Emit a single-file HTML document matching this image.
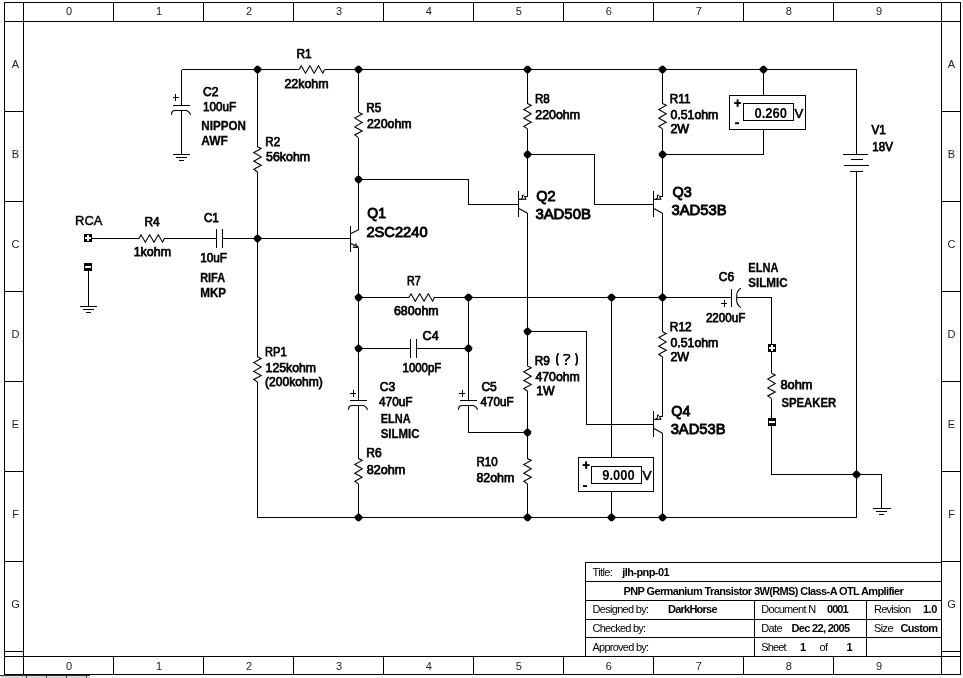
<!DOCTYPE html><html><head><meta charset="utf-8"><title>schematic</title><style>
html,body{margin:0;padding:0;background:#fefffd;}
body{width:963px;height:678px;overflow:hidden;}
svg{display:block;filter:grayscale(1);}
text{font-family:"Liberation Sans",sans-serif;fill:#000;}
.m{font-size:12.9px;font-weight:normal;stroke:#000;stroke-width:.75px;}
.r{font-size:12.8px;font-weight:normal;stroke:#000;stroke-width:.45px;}
.s{font-size:11.9px;font-weight:bold;stroke:#000;stroke-width:.3px;}
.b{font-size:14.7px;font-weight:normal;stroke:#000;stroke-width:.9px;}
.v{font-size:14.2px;font-weight:bold;}
.vv{font-size:13.6px;stroke:#000;stroke-width:.6px;}
.q{font-size:13px;font-family:"Liberation Mono",monospace;}
.pm{font-size:12px;font-weight:bold;}
.f{font-size:11px;fill:#222;}
.tr{font-size:11px;}
.tb{font-size:11px;font-weight:bold;}
.d{fill:#000;}
</style></head><body><svg width="963" height="678" viewBox="0 0 963 678">
<rect width="963" height="678" fill="#fefffd"/>
<g stroke="#000" stroke-width="1" fill="none" shape-rendering="crispEdges">
<rect x="4.5" y="2.5" width="956" height="672"/>
<rect x="23.5" y="21.5" width="918" height="635"/>
<line x1="23.5" y1="2.5" x2="23.5" y2="674.5"/>
<line x1="941.5" y1="2.5" x2="941.5" y2="674.5"/>
<line x1="4.5" y1="21.5" x2="960.5" y2="21.5"/>
<line x1="4.5" y1="656.5" x2="960.5" y2="656.5"/>
<line x1="113.5" y1="2.5" x2="113.5" y2="21.5"/>
<line x1="113.5" y1="656.5" x2="113.5" y2="674.5"/>
<line x1="203.5" y1="2.5" x2="203.5" y2="21.5"/>
<line x1="203.5" y1="656.5" x2="203.5" y2="674.5"/>
<line x1="293.5" y1="2.5" x2="293.5" y2="21.5"/>
<line x1="293.5" y1="656.5" x2="293.5" y2="674.5"/>
<line x1="383.5" y1="2.5" x2="383.5" y2="21.5"/>
<line x1="383.5" y1="656.5" x2="383.5" y2="674.5"/>
<line x1="473.5" y1="2.5" x2="473.5" y2="21.5"/>
<line x1="473.5" y1="656.5" x2="473.5" y2="674.5"/>
<line x1="563.5" y1="2.5" x2="563.5" y2="21.5"/>
<line x1="563.5" y1="656.5" x2="563.5" y2="674.5"/>
<line x1="653.5" y1="2.5" x2="653.5" y2="21.5"/>
<line x1="653.5" y1="656.5" x2="653.5" y2="674.5"/>
<line x1="743.5" y1="2.5" x2="743.5" y2="21.5"/>
<line x1="743.5" y1="656.5" x2="743.5" y2="674.5"/>
<line x1="833.5" y1="2.5" x2="833.5" y2="21.5"/>
<line x1="833.5" y1="656.5" x2="833.5" y2="674.5"/>
<line x1="4.5" y1="111.5" x2="23.5" y2="111.5"/>
<line x1="941.5" y1="111.5" x2="960.5" y2="111.5"/>
<line x1="4.5" y1="201.5" x2="23.5" y2="201.5"/>
<line x1="941.5" y1="201.5" x2="960.5" y2="201.5"/>
<line x1="4.5" y1="291.5" x2="23.5" y2="291.5"/>
<line x1="941.5" y1="291.5" x2="960.5" y2="291.5"/>
<line x1="4.5" y1="381.5" x2="23.5" y2="381.5"/>
<line x1="941.5" y1="381.5" x2="960.5" y2="381.5"/>
<line x1="4.5" y1="471.5" x2="23.5" y2="471.5"/>
<line x1="941.5" y1="471.5" x2="960.5" y2="471.5"/>
<line x1="4.5" y1="561.5" x2="23.5" y2="561.5"/>
<line x1="941.5" y1="561.5" x2="960.5" y2="561.5"/>
<line x1="4.5" y1="651.5" x2="23.5" y2="651.5"/>
<line x1="941.5" y1="651.5" x2="960.5" y2="651.5"/>
<rect x="585.5" y="562.5" width="356" height="94"/>
<line x1="585.5" y1="581.5" x2="941.5" y2="581.5"/>
<line x1="585.5" y1="600.5" x2="941.5" y2="600.5"/>
<line x1="585.5" y1="619.5" x2="941.5" y2="619.5"/>
<line x1="585.5" y1="637.5" x2="941.5" y2="637.5"/>
<line x1="754.5" y1="600.5" x2="754.5" y2="656.5"/>
<line x1="866.5" y1="600.5" x2="866.5" y2="656.5"/>
</g>
<g stroke="#000" stroke-width="1" fill="none" shape-rendering="crispEdges">
<line x1="181.5" y1="69.5" x2="299" y2="69.5"/>
<line x1="324.5" y1="69.5" x2="856.5" y2="69.5"/>
<line x1="181.5" y1="69.5" x2="181.5" y2="105.5"/>
<line x1="173" y1="105.5" x2="190" y2="105.5"/>
<line x1="181.5" y1="111" x2="181.5" y2="154.5"/>
<line x1="173.0" y1="154.5" x2="190.0" y2="154.5"/>
<line x1="176.0" y1="157.0" x2="187.0" y2="157.0"/>
<line x1="179.0" y1="160.0" x2="184.0" y2="160.0"/>
<line x1="257.5" y1="69.5" x2="257.5" y2="146.7"/>
<line x1="257.5" y1="172" x2="257.5" y2="356.8"/>
<line x1="257.5" y1="382.1" x2="257.5" y2="517.5"/>
<line x1="358.5" y1="69.5" x2="358.5" y2="112.3"/>
<line x1="358.5" y1="137.6" x2="358.5" y2="229.8"/>
<line x1="257.5" y1="238.5" x2="350.5" y2="238.5"/>
<line x1="350.5" y1="226" x2="350.5" y2="252"/>
<line x1="358.5" y1="247.5" x2="358.5" y2="400.5"/>
<line x1="358.5" y1="406" x2="358.5" y2="458.6"/>
<line x1="358.5" y1="483.9" x2="358.5" y2="517.5"/>
<polyline points="358.50,179.50 468.50,179.50 468.50,204.50 518.50,204.50" />
<line x1="92" y1="238.5" x2="139" y2="238.5"/>
<line x1="164.4" y1="238.5" x2="216.5" y2="238.5"/>
<line x1="222.5" y1="238.5" x2="257.5" y2="238.5"/>
<line x1="216.5" y1="229" x2="216.5" y2="248"/>
<line x1="222.5" y1="229" x2="222.5" y2="248"/>
<line x1="88.5" y1="271" x2="88.5" y2="306.5"/>
<line x1="80.0" y1="306.5" x2="97.0" y2="306.5"/>
<line x1="83.0" y1="309.0" x2="94.0" y2="309.0"/>
<line x1="86.0" y1="312.0" x2="91.0" y2="312.0"/>
<line x1="358.5" y1="297.5" x2="409" y2="297.5"/>
<line x1="434.4" y1="297.5" x2="731.5" y2="297.5"/>
<line x1="731.5" y1="289" x2="731.5" y2="307"/>
<polyline points="737.00,297.50 771.50,297.50 771.50,344.00" />
<line x1="358.5" y1="348.5" x2="410.5" y2="348.5"/>
<line x1="416.5" y1="348.5" x2="468.5" y2="348.5"/>
<line x1="410.5" y1="339" x2="410.5" y2="358"/>
<line x1="416.5" y1="339" x2="416.5" y2="358"/>
<line x1="468.5" y1="297.5" x2="468.5" y2="400.5"/>
<polyline points="468.50,406.00 468.50,432.50 527.50,432.50" />
<line x1="350" y1="400.5" x2="367" y2="400.5"/>
<line x1="460" y1="400.5" x2="477" y2="400.5"/>
<line x1="527.5" y1="69.5" x2="527.5" y2="103.6"/>
<line x1="527.5" y1="128.9" x2="527.5" y2="196.5"/>
<line x1="518.5" y1="191" x2="518.5" y2="217"/>
<line x1="527.5" y1="213.3" x2="527.5" y2="366"/>
<line x1="527.5" y1="391.3" x2="527.5" y2="458.6"/>
<line x1="527.5" y1="483.9" x2="527.5" y2="517.5"/>
<polyline points="527.50,154.50 594.50,154.50 594.50,204.50 653.50,204.50" />
<line x1="662.5" y1="69.5" x2="662.5" y2="103.6"/>
<line x1="662.5" y1="128.9" x2="662.5" y2="196.5"/>
<line x1="653.5" y1="191" x2="653.5" y2="217"/>
<line x1="662.5" y1="213.3" x2="662.5" y2="331.7"/>
<line x1="662.5" y1="357" x2="662.5" y2="416.5"/>
<line x1="653.5" y1="411" x2="653.5" y2="437"/>
<line x1="662.5" y1="433.3" x2="662.5" y2="517.5"/>
<polyline points="527.50,331.50 586.50,331.50 586.50,424.50 653.50,424.50" />
<rect x="729.5" y="95.5" width="76" height="34" fill="#fefffd"/>
<rect x="743.5" y="103.5" width="50" height="17"/>
<line x1="763.5" y1="69.5" x2="763.5" y2="95.5"/>
<polyline points="763.50,129.50 763.50,154.50 662.50,154.50" />
<line x1="856.5" y1="69.5" x2="856.5" y2="154.5"/>
<line x1="843" y1="154.5" x2="867.5" y2="154.5"/>
<line x1="850.5" y1="159.5" x2="862.5" y2="159.5"/>
<line x1="844" y1="165.5" x2="868.5" y2="165.5"/>
<line x1="850" y1="171.5" x2="862.5" y2="171.5"/>
<line x1="856.5" y1="171.5" x2="856.5" y2="517.5"/>
<line x1="257.5" y1="517.5" x2="856.5" y2="517.5"/>
<line x1="771.5" y1="352" x2="771.5" y2="373.3"/>
<line x1="771.5" y1="398.6" x2="771.5" y2="417.5"/>
<polyline points="771.50,426.00 771.50,474.50 881.50,474.50 881.50,508.50" />
<line x1="873.0" y1="508.5" x2="891.0" y2="508.5"/>
<line x1="876.0" y1="511.0" x2="887.0" y2="511.0"/>
<line x1="879.0" y1="514.0" x2="884.0" y2="514.0"/>
<line x1="611.5" y1="297.5" x2="611.5" y2="457.5"/>
<line x1="611.5" y1="491.5" x2="611.5" y2="517.5"/>
<rect x="578.5" y="457.5" width="75" height="34" fill="#fefffd"/>
<rect x="591.5" y="466.5" width="50" height="17"/>
</g>
<g stroke="#000" stroke-width="1.1" fill="none" stroke-linejoin="miter">
<polyline points="299.20,69.50 301.20,65.80 305.50,73.20 309.90,65.80 314.20,73.20 318.50,65.80 322.80,73.20 324.60,69.50" />
<polyline points="139.00,238.50 141.00,234.80 145.30,242.20 149.70,234.80 154.00,242.20 158.30,234.80 162.60,242.20 164.40,238.50" />
<polyline points="409.00,297.50 411.00,293.80 415.30,301.20 419.70,293.80 424.00,301.20 428.30,293.80 432.60,301.20 434.40,297.50" />
<polyline points="257.50,146.70 261.20,148.50 253.80,152.50 261.20,156.90 253.80,161.30 261.20,165.30 253.80,169.30 257.50,172.00" />
<polyline points="257.50,356.80 261.20,358.60 253.80,362.60 261.20,367.00 253.80,371.40 261.20,375.40 253.80,379.40 257.50,382.10" />
<polyline points="358.50,112.30 362.20,114.10 354.80,118.10 362.20,122.50 354.80,126.90 362.20,130.90 354.80,134.90 358.50,137.60" />
<polyline points="358.50,458.60 362.20,460.40 354.80,464.40 362.20,468.80 354.80,473.20 362.20,477.20 354.80,481.20 358.50,483.90" />
<polyline points="527.50,103.60 531.20,105.40 523.80,109.40 531.20,113.80 523.80,118.20 531.20,122.20 523.80,126.20 527.50,128.90" />
<polyline points="527.50,366.00 531.20,367.80 523.80,371.80 531.20,376.20 523.80,380.60 531.20,384.60 523.80,388.60 527.50,391.30" />
<polyline points="527.50,458.60 531.20,460.40 523.80,464.40 531.20,468.80 523.80,473.20 531.20,477.20 523.80,481.20 527.50,483.90" />
<polyline points="662.50,103.60 666.20,105.40 658.80,109.40 666.20,113.80 658.80,118.20 666.20,122.20 658.80,126.20 662.50,128.90" />
<polyline points="662.50,331.70 666.20,333.50 658.80,337.50 666.20,341.90 658.80,346.30 666.20,350.30 658.80,354.30 662.50,357.00" />
<polyline points="771.50,373.30 775.20,375.10 767.80,379.10 775.20,383.50 767.80,387.90 775.20,391.90 767.80,395.90 771.50,398.60" />
<path d="M171.5,114.8 L171.6,113.1 Q172.0,110.5 175.2,110.5 L186.5,110.5 Q189.5,111.5 190.7,114.8"/>
<path d="M348.5,409.8 L348.6,408.1 Q349.0,405.5 352.2,405.5 L363.5,405.5 Q366.5,406.5 367.7,409.8"/>
<path d="M458.5,409.8 L458.6,408.1 Q459.0,405.5 462.2,405.5 L473.5,405.5 Q476.5,406.5 477.7,409.8"/>
<path d="M740.8,288.3 L739,289.6 Q736.7,292.3 736.7,295 L736.7,300.5 Q736.7,303.5 739,306.2 L740.8,307.6"/>
<polyline points="350.50,233.80 358.50,229.80" />
<polyline points="350.50,243.20 358.50,247.50" />
<path d="M353.2,247.5 L355.8,243.6 L358.2,247.5 Z" stroke-width="0.9"/>
<polyline points="527.50,196.50 524.70,196.50 525.80,199.30 518.50,199.40" />
<polyline points="524.10,195.20 522.50,195.20 522.50,197.90 520.90,199.10" />
<polyline points="518.50,208.30 527.50,213.30" />
<polyline points="662.50,196.50 659.70,196.50 660.80,199.30 653.50,199.40" />
<polyline points="659.10,195.20 657.50,195.20 657.50,197.90 655.90,199.10" />
<polyline points="653.50,208.30 662.50,213.30" />
<polyline points="662.50,416.50 659.70,416.50 660.80,419.30 653.50,419.40" />
<polyline points="659.10,415.20 657.50,415.20 657.50,417.90 655.90,419.10" />
<polyline points="653.50,428.30 662.50,433.30" />
</g>
<g stroke="#000" stroke-width="1" fill="none" shape-rendering="crispEdges">
<line x1="173" y1="97.5" x2="179" y2="97.5"/>
<line x1="175.5" y1="94" x2="175.5" y2="101"/>
<line x1="350" y1="393.5" x2="356" y2="393.5"/>
<line x1="353.5" y1="390" x2="353.5" y2="397"/>
<line x1="459" y1="393.5" x2="465" y2="393.5"/>
<line x1="462.5" y1="390" x2="462.5" y2="397"/>
<line x1="721" y1="303.5" x2="727" y2="303.5"/>
<line x1="724.5" y1="300" x2="724.5" y2="307"/>
</g>
<polygon points="253.85,68.35 256.35,65.85 258.65,65.85 261.15,68.35 261.15,70.65 258.65,73.15 256.35,73.15 253.85,70.65" class="d"/>
<polygon points="354.85,68.35 357.35,65.85 359.65,65.85 362.15,68.35 362.15,70.65 359.65,73.15 357.35,73.15 354.85,70.65" class="d"/>
<polygon points="523.85,68.35 526.35,65.85 528.65,65.85 531.15,68.35 531.15,70.65 528.65,73.15 526.35,73.15 523.85,70.65" class="d"/>
<polygon points="658.85,68.35 661.35,65.85 663.65,65.85 666.15,68.35 666.15,70.65 663.65,73.15 661.35,73.15 658.85,70.65" class="d"/>
<polygon points="759.85,68.35 762.35,65.85 764.65,65.85 767.15,68.35 767.15,70.65 764.65,73.15 762.35,73.15 759.85,70.65" class="d"/>
<polygon points="354.85,178.35 357.35,175.85 359.65,175.85 362.15,178.35 362.15,180.65 359.65,183.15 357.35,183.15 354.85,180.65" class="d"/>
<polygon points="523.85,153.35 526.35,150.85 528.65,150.85 531.15,153.35 531.15,155.65 528.65,158.15 526.35,158.15 523.85,155.65" class="d"/>
<polygon points="658.85,153.35 661.35,150.85 663.65,150.85 666.15,153.35 666.15,155.65 663.65,158.15 661.35,158.15 658.85,155.65" class="d"/>
<polygon points="253.85,237.35 256.35,234.85 258.65,234.85 261.15,237.35 261.15,239.65 258.65,242.15 256.35,242.15 253.85,239.65" class="d"/>
<polygon points="354.85,296.35 357.35,293.85 359.65,293.85 362.15,296.35 362.15,298.65 359.65,301.15 357.35,301.15 354.85,298.65" class="d"/>
<polygon points="464.85,296.35 467.35,293.85 469.65,293.85 472.15,296.35 472.15,298.65 469.65,301.15 467.35,301.15 464.85,298.65" class="d"/>
<polygon points="607.85,296.35 610.35,293.85 612.65,293.85 615.15,296.35 615.15,298.65 612.65,301.15 610.35,301.15 607.85,298.65" class="d"/>
<polygon points="658.85,296.35 661.35,293.85 663.65,293.85 666.15,296.35 666.15,298.65 663.65,301.15 661.35,301.15 658.85,298.65" class="d"/>
<polygon points="354.85,347.35 357.35,344.85 359.65,344.85 362.15,347.35 362.15,349.65 359.65,352.15 357.35,352.15 354.85,349.65" class="d"/>
<polygon points="464.85,347.35 467.35,344.85 469.65,344.85 472.15,347.35 472.15,349.65 469.65,352.15 467.35,352.15 464.85,349.65" class="d"/>
<polygon points="523.85,330.35 526.35,327.85 528.65,327.85 531.15,330.35 531.15,332.65 528.65,335.15 526.35,335.15 523.85,332.65" class="d"/>
<polygon points="523.85,431.35 526.35,428.85 528.65,428.85 531.15,431.35 531.15,433.65 528.65,436.15 526.35,436.15 523.85,433.65" class="d"/>
<polygon points="354.85,516.35 357.35,513.85 359.65,513.85 362.15,516.35 362.15,518.65 359.65,521.15 357.35,521.15 354.85,518.65" class="d"/>
<polygon points="523.85,516.35 526.35,513.85 528.65,513.85 531.15,516.35 531.15,518.65 528.65,521.15 526.35,521.15 523.85,518.65" class="d"/>
<polygon points="607.85,516.35 610.35,513.85 612.65,513.85 615.15,516.35 615.15,518.65 612.65,521.15 610.35,521.15 607.85,518.65" class="d"/>
<polygon points="658.85,516.35 661.35,513.85 663.65,513.85 666.15,516.35 666.15,518.65 663.65,521.15 661.35,521.15 658.85,518.65" class="d"/>
<polygon points="852.85,473.35 855.35,470.85 857.65,470.85 860.15,473.35 860.15,475.65 857.65,478.15 855.35,478.15 852.85,475.65" class="d"/>
<rect x="84" y="234" width="8" height="8" fill="#000" shape-rendering="crispEdges"/>
<rect x="85" y="237" width="6" height="2" fill="#fff"/><rect x="87" y="235" width="2" height="6" fill="#fff"/>
<rect x="84" y="263" width="8" height="8" fill="#000" shape-rendering="crispEdges"/>
<rect x="85" y="266" width="6" height="2" fill="#fff"/>
<rect x="768" y="344" width="8" height="8" fill="#000" shape-rendering="crispEdges"/>
<rect x="769" y="347" width="6" height="2" fill="#fff"/><rect x="771" y="345" width="2" height="6" fill="#fff"/>
<rect x="768" y="418" width="8" height="8" fill="#000" shape-rendering="crispEdges"/>
<rect x="769" y="421" width="6" height="2" fill="#fff"/>
<text x="296.4" y="57.6" class="m" textLength="15.2" lengthAdjust="spacingAndGlyphs">R1</text>
<text x="284.4" y="87.6" class="m" textLength="44.2" lengthAdjust="spacingAndGlyphs">22kohm</text>
<text x="203.0" y="95.6" class="m" textLength="15.4" lengthAdjust="spacingAndGlyphs">C2</text>
<text x="203.0" y="111.4" class="m" textLength="33.1" lengthAdjust="spacingAndGlyphs">100uF</text>
<text x="201.3" y="129.7" class="s" textLength="44.5" lengthAdjust="spacingAndGlyphs">NIPPON</text>
<text x="201.3" y="144.7" class="s" textLength="26.6" lengthAdjust="spacingAndGlyphs">AWF</text>
<text x="265.3" y="145.6" class="m" textLength="14.9" lengthAdjust="spacingAndGlyphs">R2</text>
<text x="266.1" y="161.2" class="m" textLength="44.0" lengthAdjust="spacingAndGlyphs">56kohm</text>
<text x="366.3" y="111.5" class="m" textLength="15.1" lengthAdjust="spacingAndGlyphs">R5</text>
<text x="366.9" y="128.1" class="m" textLength="44.7" lengthAdjust="spacingAndGlyphs">220ohm</text>
<text x="75.1" y="225.2" class="r" textLength="27.4" lengthAdjust="spacingAndGlyphs">RCA</text>
<text x="144.4" y="226.2" class="m" textLength="15.2" lengthAdjust="spacingAndGlyphs">R4</text>
<text x="133.7" y="256.4" class="m" textLength="37.3" lengthAdjust="spacingAndGlyphs">1kohm</text>
<text x="203.9" y="221.5" class="m" textLength="15.0" lengthAdjust="spacingAndGlyphs">C1</text>
<text x="200.2" y="262.4" class="m" textLength="26.9" lengthAdjust="spacingAndGlyphs">10uF</text>
<text x="200.2" y="281.7" class="s" textLength="24.9" lengthAdjust="spacingAndGlyphs">RIFA</text>
<text x="200.2" y="296.7" class="s" textLength="25.9" lengthAdjust="spacingAndGlyphs">MKP</text>
<text x="367.3" y="218.2" class="b" textLength="18.6" lengthAdjust="spacingAndGlyphs">Q1</text>
<text x="366.4" y="236.5" class="b" textLength="61.2" lengthAdjust="spacingAndGlyphs">2SC2240</text>
<text x="406.9" y="285.0" class="m" textLength="13.7" lengthAdjust="spacingAndGlyphs">R7</text>
<text x="393.9" y="315.0" class="m" textLength="44.7" lengthAdjust="spacingAndGlyphs">680ohm</text>
<text x="534.9" y="103.1" class="m" textLength="14.9" lengthAdjust="spacingAndGlyphs">R8</text>
<text x="535.3" y="119.1" class="m" textLength="44.8" lengthAdjust="spacingAndGlyphs">220ohm</text>
<text x="669.8" y="103.2" class="m" textLength="20.6" lengthAdjust="spacingAndGlyphs">R11</text>
<text x="670.4" y="119.4" class="m" textLength="48.0" lengthAdjust="spacingAndGlyphs">0.51ohm</text>
<text x="670.4" y="133.1" class="m" textLength="18.8" lengthAdjust="spacingAndGlyphs">2W</text>
<text x="871.5" y="134.3" class="m" textLength="14.3" lengthAdjust="spacingAndGlyphs">V1</text>
<text x="872.2" y="150.5" class="m" textLength="20.7" lengthAdjust="spacingAndGlyphs">18V</text>
<text x="536.3" y="201.3" class="b" textLength="19.4" lengthAdjust="spacingAndGlyphs">Q2</text>
<text x="535.4" y="219.4" class="b" textLength="55.5" lengthAdjust="spacingAndGlyphs">3AD50B</text>
<text x="672.4" y="196.8" class="b" textLength="19.3" lengthAdjust="spacingAndGlyphs">Q3</text>
<text x="671.4" y="214.9" class="b" textLength="55.2" lengthAdjust="spacingAndGlyphs">3AD53B</text>
<text x="718.7" y="280.7" class="m" textLength="15.4" lengthAdjust="spacingAndGlyphs">C6</text>
<text x="748.3" y="271.7" class="s" textLength="30.1" lengthAdjust="spacingAndGlyphs">ELNA</text>
<text x="748.3" y="286.6" class="s" textLength="39.3" lengthAdjust="spacingAndGlyphs">SILMIC</text>
<text x="705.9" y="321.8" class="m" textLength="39.4" lengthAdjust="spacingAndGlyphs">2200uF</text>
<text x="669.8" y="330.6" class="m" textLength="21.8" lengthAdjust="spacingAndGlyphs">R12</text>
<text x="670.4" y="347.3" class="m" textLength="48.0" lengthAdjust="spacingAndGlyphs">0.51ohm</text>
<text x="670.4" y="361.0" class="m" textLength="18.8" lengthAdjust="spacingAndGlyphs">2W</text>
<text x="780.4" y="388.9" class="m" textLength="32.2" lengthAdjust="spacingAndGlyphs">8ohm</text>
<text x="781.4" y="407.0" class="s" textLength="54.8" lengthAdjust="spacingAndGlyphs">SPEAKER</text>
<text x="265.1" y="356.4" class="m" textLength="21.6" lengthAdjust="spacingAndGlyphs">RP1</text>
<text x="265.6" y="371.9" class="m" textLength="50.5" lengthAdjust="spacingAndGlyphs">125kohm</text>
<text x="265.1" y="386.3" class="m" textLength="57.7" lengthAdjust="spacingAndGlyphs">(200kohm)</text>
<text x="422.6" y="340.2" class="m" textLength="16.1" lengthAdjust="spacingAndGlyphs">C4</text>
<text x="402.6" y="371.9" class="m" textLength="38.6" lengthAdjust="spacingAndGlyphs">1000pF</text>
<text x="379.7" y="391.1" class="m" textLength="15.4" lengthAdjust="spacingAndGlyphs">C3</text>
<text x="379.0" y="406.0" class="m" textLength="33.6" lengthAdjust="spacingAndGlyphs">470uF</text>
<text x="380.7" y="422.9" class="s" textLength="29.9" lengthAdjust="spacingAndGlyphs">ELNA</text>
<text x="380.7" y="437.6" class="s" textLength="38.8" lengthAdjust="spacingAndGlyphs">SILMIC</text>
<text x="481.4" y="391.1" class="m" textLength="15.4" lengthAdjust="spacingAndGlyphs">C5</text>
<text x="480.6" y="406.0" class="m" textLength="33.1" lengthAdjust="spacingAndGlyphs">470uF</text>
<text x="366.2" y="457.4" class="m" textLength="15.4" lengthAdjust="spacingAndGlyphs">R6</text>
<text x="366.7" y="473.6" class="m" textLength="38.6" lengthAdjust="spacingAndGlyphs">82ohm</text>
<text x="476.4" y="466.4" class="m" textLength="21.2" lengthAdjust="spacingAndGlyphs">R10</text>
<text x="476.4" y="482.3" class="m" textLength="38.0" lengthAdjust="spacingAndGlyphs">82ohm</text>
<text x="534.7" y="364.9" class="m" textLength="15.2" lengthAdjust="spacingAndGlyphs">R9</text>
<text x="535.4" y="381.3" class="m" textLength="44.4" lengthAdjust="spacingAndGlyphs">470ohm</text>
<text x="536.2" y="395.1" class="m" textLength="18.4" lengthAdjust="spacingAndGlyphs">1W</text>
<text x="671.3" y="415.9" class="b" textLength="19.1" lengthAdjust="spacingAndGlyphs">Q4</text>
<text x="670.7" y="434.2" class="b" textLength="54.8" lengthAdjust="spacingAndGlyphs">3AD53B</text>
<text x="754.4" y="117.8" class="v" textLength="32.7" lengthAdjust="spacingAndGlyphs">0.260</text>
<text x="794.4" y="117.7" class="vv" textLength="8.8" lengthAdjust="spacingAndGlyphs">V</text>
<text x="602.3" y="480.2" class="v" textLength="32.4" lengthAdjust="spacingAndGlyphs">9.000</text>
<text x="642.5" y="480.3" class="vv" textLength="9.1" lengthAdjust="spacingAndGlyphs">V</text>
<g stroke="#000" stroke-width="1.7" fill="none" stroke-linejoin="round">
<path d="M558.5,353.2 Q556.9,355.5 556.9,357.6 L556.9,361.4 Q556.9,363.5 558.5,365.6"/>
<path d="M575.5,353.2 Q577.1,355.5 577.1,357.6 L577.1,361.4 Q577.1,363.5 575.5,365.6"/>
<path d="M563.4,355.7 L564.6,354.7 L568.6,354.7 L569.5,355.8 L569.5,357 L566,360.2 L566,361.7" stroke-width="1.6"/>
</g><rect x="565.1" y="363" width="1.9" height="1.9" fill="#000"/>
<rect x="734.1" y="102.14999999999999" width="7" height="1.9"/><rect x="736.65" y="99.39999999999999" width="1.9" height="7.4"/>
<rect x="735.05" y="122.25" width="4" height="1.9"/>
<rect x="582.6" y="464.15000000000003" width="7" height="1.9"/><rect x="585.15" y="461.40000000000003" width="1.9" height="7.4"/>
<rect x="583.05" y="485.15000000000003" width="4" height="1.9"/>
<text x="69.0" y="15.2" class="f" text-anchor="middle">0</text>
<text x="69.0" y="669.6" class="f" text-anchor="middle">0</text>
<text x="159.0" y="15.2" class="f" text-anchor="middle">1</text>
<text x="159.0" y="669.6" class="f" text-anchor="middle">1</text>
<text x="249.0" y="15.2" class="f" text-anchor="middle">2</text>
<text x="249.0" y="669.6" class="f" text-anchor="middle">2</text>
<text x="339.0" y="15.2" class="f" text-anchor="middle">3</text>
<text x="339.0" y="669.6" class="f" text-anchor="middle">3</text>
<text x="428.8" y="15.2" class="f" text-anchor="middle">4</text>
<text x="428.8" y="669.6" class="f" text-anchor="middle">4</text>
<text x="518.8" y="15.2" class="f" text-anchor="middle">5</text>
<text x="518.8" y="669.6" class="f" text-anchor="middle">5</text>
<text x="608.9" y="15.2" class="f" text-anchor="middle">6</text>
<text x="608.9" y="669.6" class="f" text-anchor="middle">6</text>
<text x="698.8" y="15.2" class="f" text-anchor="middle">7</text>
<text x="698.8" y="669.6" class="f" text-anchor="middle">7</text>
<text x="788.9" y="15.2" class="f" text-anchor="middle">8</text>
<text x="788.9" y="669.6" class="f" text-anchor="middle">8</text>
<text x="879.0" y="15.2" class="f" text-anchor="middle">9</text>
<text x="879.0" y="669.6" class="f" text-anchor="middle">9</text>
<text x="15.5" y="68.2" class="f" text-anchor="middle">A</text>
<text x="951.5" y="68.2" class="f" text-anchor="middle">A</text>
<text x="15.5" y="158.2" class="f" text-anchor="middle">B</text>
<text x="951.5" y="158.2" class="f" text-anchor="middle">B</text>
<text x="15.5" y="248.2" class="f" text-anchor="middle">C</text>
<text x="951.5" y="248.2" class="f" text-anchor="middle">C</text>
<text x="15.5" y="338.2" class="f" text-anchor="middle">D</text>
<text x="951.5" y="338.2" class="f" text-anchor="middle">D</text>
<text x="15.5" y="428.2" class="f" text-anchor="middle">E</text>
<text x="951.5" y="428.2" class="f" text-anchor="middle">E</text>
<text x="15.5" y="518.2" class="f" text-anchor="middle">F</text>
<text x="951.5" y="518.2" class="f" text-anchor="middle">F</text>
<text x="15.5" y="608.2" class="f" text-anchor="middle">G</text>
<text x="951.5" y="608.2" class="f" text-anchor="middle">G</text>
<text x="592.5" y="576.0" class="tr" textLength="20.3" lengthAdjust="spacing">Title:</text>
<text x="622.3" y="576.0" class="tb" textLength="47.3" lengthAdjust="spacing">jlh-pnp-01</text>
<text x="623.5" y="595.0" class="tb" textLength="280.2" lengthAdjust="spacing">PNP Germanium Transistor 3W(RMS) Class-A OTL Amplifier</text>
<text x="592.5" y="612.7" class="tr" textLength="56.6" lengthAdjust="spacing">Designed by:</text>
<text x="668.0" y="612.7" class="tb" textLength="49.6" lengthAdjust="spacing">DarkHorse</text>
<text x="592.5" y="631.7" class="tr" textLength="53.6" lengthAdjust="spacing">Checked by:</text>
<text x="592.5" y="650.5" class="tr" textLength="56.6" lengthAdjust="spacing">Approved by:</text>
<text x="761.2" y="612.7" class="tr" textLength="54.9" lengthAdjust="spacing">Document N</text>
<text x="827.0" y="612.7" class="tb" textLength="21.6" lengthAdjust="spacing">0001</text>
<text x="873.9" y="612.7" class="tr" textLength="37.2" lengthAdjust="spacing">Revision</text>
<text x="923.0" y="612.7" class="tb" textLength="14.3" lengthAdjust="spacing">1.0</text>
<text x="761.2" y="631.7" class="tr" textLength="21.4" lengthAdjust="spacing">Date</text>
<text x="791.6" y="631.7" class="tb" textLength="58.5" lengthAdjust="spacing">Dec 22, 2005</text>
<text x="873.9" y="631.7" class="tr" textLength="19.7" lengthAdjust="spacing">Size</text>
<text x="900.5" y="631.7" class="tb" textLength="37.5" lengthAdjust="spacing">Custom</text>
<text x="761.2" y="650.5" class="tr" textLength="25.4" lengthAdjust="spacing">Sheet</text>
<text x="800.0" y="650.5" class="tb" textLength="4.6" lengthAdjust="spacing">1</text>
<text x="819.5" y="650.5" class="tr" textLength="8.6" lengthAdjust="spacing">of</text>
<text x="846.5" y="650.5" class="tb" textLength="4.6" lengthAdjust="spacing">1</text>
<rect x="0" y="675" width="89.5" height="3" fill="#d8d8d8"/><rect x="0" y="675" width="90" height="1" fill="#333"/>
<rect x="26" y="676" width="1" height="2" fill="#444"/>
<rect x="46" y="676" width="1" height="2" fill="#444"/>
<rect x="66" y="676" width="1" height="2" fill="#444"/>
<rect x="86" y="676" width="1" height="2" fill="#444"/>
</svg></body></html>
